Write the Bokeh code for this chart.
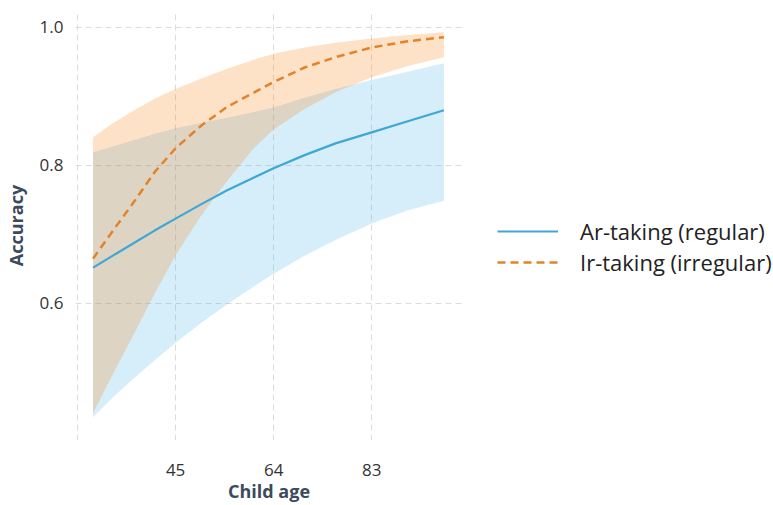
from bokeh.plotting import figure
from bokeh.models import Range1d, FixedTicker, Legend, LegendItem, NumeralTickFormatter
from bokeh.embed import file_html
from bokeh.resources import INLINE

# ---- data ----
age = [29, 33, 37, 41, 45, 50, 55, 60, 64, 70, 76, 83, 90, 97]

ar_fit = [0.652, 0.670, 0.688, 0.706, 0.723, 0.744, 0.764, 0.782, 0.796, 0.815, 0.832, 0.848, 0.864, 0.880]
ar_low = [0.435, 0.465, 0.492, 0.518, 0.543, 0.572, 0.599, 0.624, 0.643, 0.669, 0.692, 0.716, 0.735, 0.749]
ar_high = [0.819, 0.828, 0.837, 0.846, 0.854, 0.862, 0.869, 0.877, 0.884, 0.898, 0.911, 0.924, 0.936, 0.948]

ir_fit = [0.665, 0.707, 0.748, 0.791, 0.825, 0.858, 0.885, 0.905, 0.921, 0.942, 0.957, 0.971, 0.980, 0.986]
ir_low = [0.441, 0.500, 0.557, 0.615, 0.670, 0.728, 0.778, 0.824, 0.852, 0.882, 0.906, 0.928, 0.944, 0.957]
ir_high = [0.841, 0.862, 0.880, 0.897, 0.911, 0.926, 0.940, 0.953, 0.962, 0.971, 0.978, 0.984, 0.989, 0.993]

x_ticks = [45, 64, 83]
x_grid = [26, 45, 64, 83]
y_ticks = [0.6, 0.8, 1.0]

series_names = ["Ar-taking (regular)", "Ir-taking (irregular)"]

# ---- figure ----
p = figure(frame_width=387, frame_height=430, output_backend="svg", toolbar_location=None,
           x_range=Range1d(25.6, 100.6), y_range=Range1d(0.4014, 1.0246),
           min_border_left=75, min_border_right=305, min_border_top=10, min_border_bottom=0)
p.outline_line_color = None
p.background_fill_color = "white"
p.border_fill_color = "white"

blue_band = "#32AAE6"
orange_band = "#F67B05"
blue_line = "#3FA7D6"
orange_line = "#E4822A"

p.varea(x=age, y1=ar_low, y2=ar_high, fill_color=blue_band, fill_alpha=0.2)
p.varea(x=age, y1=ir_low, y2=ir_high, fill_color=orange_band, fill_alpha=0.22)

r_ar = p.line(age, ar_fit, line_color=blue_line, line_width=2.2)
r_ir = p.line(age, ir_fit, line_color=orange_line, line_width=2.5, line_dash="8 5")

# grids
p.xgrid.ticker = FixedTicker(ticks=x_grid)
p.ygrid.ticker = FixedTicker(ticks=y_ticks)
for g in (p.xgrid, p.ygrid):
    g.grid_line_color = "#dcdcdc"
    g.grid_line_dash = "6 4"
    g.grid_line_width = 1

# axes
p.xaxis.ticker = FixedTicker(ticks=x_ticks)
p.yaxis.ticker = FixedTicker(ticks=y_ticks)
p.yaxis.formatter = NumeralTickFormatter(format="0.0")
for ax in (p.xaxis, p.yaxis):
    ax.axis_line_color = None
    ax.major_tick_line_color = None
    ax.minor_tick_line_color = None
    ax.major_tick_out = 0
    ax.minor_tick_out = 0
    ax.major_label_text_font = "Open Sans"
    ax.major_label_text_font_size = "17px"
    ax.major_label_text_color = "#333333"
    ax.axis_label_text_font = "Open Sans"
    ax.axis_label_text_font_style = "bold"
    ax.axis_label_text_font_size = "18px"
    ax.axis_label_text_color = "#3b4a5c"

p.xaxis.axis_label = "Child age"
p.yaxis.axis_label = "Accuracy"
p.xaxis.major_label_standoff = 23
p.xaxis.axis_label_standoff = 0
p.yaxis.major_label_standoff = 12
p.yaxis.axis_label_standoff = 9

legend = Legend(items=[LegendItem(label=series_names[0], renderers=[r_ar]),
                       LegendItem(label=series_names[1], renderers=[r_ir])],
                location=(35, 163), margin=0, padding=0, spacing=1,
                glyph_width=61, glyph_height=22, label_height=22, label_standoff=22,
                label_text_font="Open Sans", label_text_font_size="22px",
                label_text_color="#222222",
                background_fill_alpha=0, border_line_color=None)
p.add_layout(legend, "right")

open("out.html", "w").write(file_html(p, INLINE))
